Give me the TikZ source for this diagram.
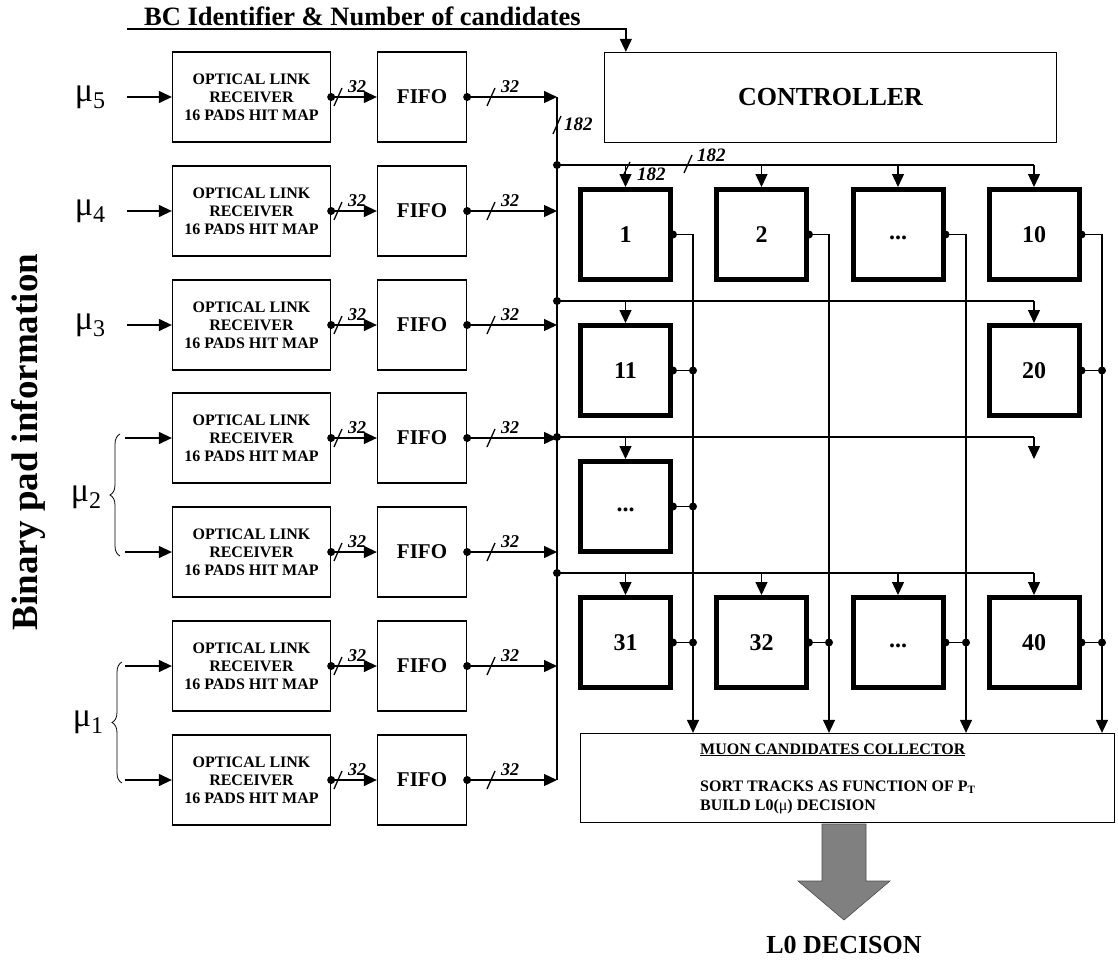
\documentclass[tikz,border=0pt]{standalone}
\usepackage{fontspec}
\setmainfont{Liberation Serif}
\usetikzlibrary{arrows.meta,decorations.pathreplacing,calc}
\newcommand{\celldots}{\vphantom{1}\raisebox{3pt}{...}}
\begin{document}
\begin{tikzpicture}[x=1pt,y=-1pt,
  ln/.style={line width=1.3pt},
  arr/.style={line width=1.3pt,-{Triangle[length=13pt,width=12pt]}},
  olr/.style={draw,line width=1.3pt,minimum width=158pt,minimum height=90pt,align=center,inner sep=0pt,font=\bfseries\fontsize{16}{18}\selectfont},
  fifo/.style={draw,line width=1.3pt,minimum width=89pt,minimum height=90pt,inner sep=0pt,font=\bfseries\fontsize{21}{25}\selectfont},
  cell/.style={draw,line width=5pt,minimum width=90pt,minimum height=90pt,inner sep=0pt,font=\bfseries\fontsize{24}{28}\selectfont},
  dot/.style={circle,fill,inner sep=0pt,minimum size=8pt},
  bw/.style={inner sep=0pt,font=\bfseries\itshape\fontsize{18}{20}\selectfont},
  bn/.style={inner sep=0pt,font=\bfseries\itshape\fontsize{19}{22}\selectfont},
  mu/.style={inner sep=0pt,font=\fontsize{34}{34}\selectfont},
  ctext/.style={anchor=base west,inner sep=0pt,font=\bfseries\fontsize{16}{18}\selectfont},
  brc/.style={line width=0.8pt,decorate,decoration={brace,amplitude=10pt}}
]
\useasboundingbox (0,0) rectangle (1118,961);

% title line
\node[anchor=base west,inner sep=0pt,font=\bfseries\fontsize{26.5}{30}\selectfont] (bct) at (144,25) {BC Identifier \& Number of candidates};
\node[draw,line width=1.3pt,minimum width=452pt,minimum height=90pt,inner sep=0pt,font=\bfseries\fontsize{26}{30}\selectfont] (ctrl) at (830.5,97.5) {CONTROLLER};
\coordinate (bcs) at (127,29);
\path (ctrl.north west) ++(22,0) coordinate (ctin);
\draw[arr] (bcs) -| (ctin);

% side label
\node[rotate=90,anchor=base,inner sep=0pt,font=\bfseries\fontsize{37}{40}\selectfont] (side) at (37,442) {Binary pad information};

% rows
\foreach \i/\y/\xs in {1/97/127,2/211/127,3/325/127,4/438/125,5/552/125,6/666/125,7/780/125} {
  \node[olr] (o\i) at (251.5,\y) {OPTICAL LINK\\RECEIVER\\16 PADS HIT MAP};
  \node[fifo] (f\i) at (422,\y) {FIFO};
  \coordinate (in\i) at (\xs,\y);
  \coordinate (b\i) at (557,\y);
  \draw[arr] (in\i) -- (o\i.west);
  \draw[arr] (o\i.east) -- (f\i.west);
  \node[dot] at (o\i.east) {};
  \draw[arr] (f\i.east) -- (b\i);
  \node[dot] at (f\i.east) {};
  \draw[ln] (334,\y+9) -- (342,\y-9);
  \node[bw] at (357,\y-10) {32};
  \draw[ln] (487,\y+9) -- (495,\y-9);
  \node[bw] at (510,\y-10) {32};
}

% mu labels
\node[mu] (m5) at (90,97) {μ{\fontsize{24}{24}\selectfont\raisebox{-7pt}{5}}};
\node[mu] (m4) at (90,211) {μ{\fontsize{24}{24}\selectfont\raisebox{-7pt}{4}}};
\node[mu] (m3) at (90,325) {μ{\fontsize{24}{24}\selectfont\raisebox{-7pt}{3}}};
\node[mu] (m2) at (86,497) {μ{\fontsize{24}{24}\selectfont\raisebox{-7pt}{2}}};
\node[mu] (m1) at (88,722) {μ{\fontsize{24}{24}\selectfont\raisebox{-7pt}{1}}};
\draw[brc] (120,556) -- (120,434);
\draw[brc] (122,783) -- (122,662);

% bus
\draw[ln] (b1) -- (b7);
\draw[ln] (553,134) -- (561,116);
\node[bn,anchor=west] (l182a) at (564,124) {182};

% cells
\node[cell] (c11) at (625.5,234.5) {1};
\node[cell] (c12) at (761.5,234.5) {2};
\node[cell] (c13) at (898,234.5) {\celldots};
\node[cell] (c14) at (1034,234.5) {10};
\node[cell] (c21) at (625.5,370.5) {11};
\node[cell] (c24) at (1034,370.5) {20};
\node[cell] (c31) at (625.5,506.5) {\celldots};
\node[cell] (c41) at (625.5,642.5) {31};
\node[cell] (c42) at (761.5,642.5) {32};
\node[cell] (c43) at (898,642.5) {\celldots};
\node[cell] (c44) at (1034,642.5) {40};
\coordinate (x34) at (1034,459);

% distribution lines
\coordinate (h1) at (557,165);
\coordinate (h2) at (557,301);
\coordinate (h3) at (557,437);
\coordinate (h4) at (557,573);
\foreach \h in {h1,h2,h3,h4} {
  \draw[ln] (\h) -- (\h -| c14.north);
  \node[dot] at (\h) {};
}
\foreach \c in {c11,c12,c13,c14} \draw[arr] (h1 -| \c.north) -- (\c.north);
\foreach \c in {c21,c24} \draw[arr] (h2 -| \c.north) -- (\c.north);
\draw[arr] (h3 -| c31.north) -- (c31.north);
\draw[arr] (h3 -| x34) -- (x34);
\foreach \c in {c41,c42,c43,c44} \draw[arr] (h4 -| \c.north) -- (\c.north);

\draw[ln] (622,178) -- (630,162);
\node[bn,anchor=west] (l182b) at (637,174) {182};
\draw[ln] (684,173) -- (692,155);
\node[bn,anchor=west] (l182c) at (697,155) {182};

% collector
\node[draw,line width=1.3pt,minimum width=534pt,minimum height=89pt,inner sep=0pt] (coll) at (847.5,778) {};
\coordinate (t1) at (693,0);
\coordinate (t2) at (829,0);
\coordinate (t3) at (966,0);
\coordinate (t4) at (1102,0);
\foreach \k in {1,2,3,4} {
  \draw[arr] (c1\k.east) -| (t\k |- coll.north);
  \node[dot] at (c1\k.east) {};
  \draw[ln] (c4\k.east) -- (c4\k.east -| t\k);
  \node[dot] at (c4\k.east) {};
  \node[dot] at (c4\k.east -| t\k) {};
}
\draw[ln] (c21.east) -- (c21.east -| t1);
\node[dot] at (c21.east) {};
\node[dot] at (c21.east -| t1) {};
\draw[ln] (c31.east) -- (c31.east -| t1);
\node[dot] at (c31.east) {};
\node[dot] at (c31.east -| t1) {};
\draw[ln] (c24.east) -- (c24.east -| t4);
\node[dot] at (c24.east) {};
\node[dot] at (c24.east -| t4) {};

\node[ctext] (ct1) at (700,754) {\underline{MUON CANDIDATES COLLECTOR}};
\node[ctext] (ct2) at (700,791) {SORT TRACKS AS FUNCTION OF P\textsubscript{T}};
\node[ctext] (ct3) at (700,810) {BUILD L0({\mdseries μ}) DECISION};

% output arrow
\coordinate (ga) at (844,824);
\draw[draw=gray!60!black,fill=gray,line width=0.6pt]
  ($(ga)+(-22,0)$) -- ($(ga)+(22,0)$) -- ($(ga)+(22,57)$) -- ($(ga)+(46,57)$)
  -- ($(ga)+(0,96)$) -- ($(ga)+(-46,57)$) -- ($(ga)+(-22,57)$) -- cycle;
\node[inner sep=0pt,font=\bfseries\fontsize{26}{30}\selectfont] (dec) at (844,945) {L0 DECISON};
\end{tikzpicture}
\end{document}
